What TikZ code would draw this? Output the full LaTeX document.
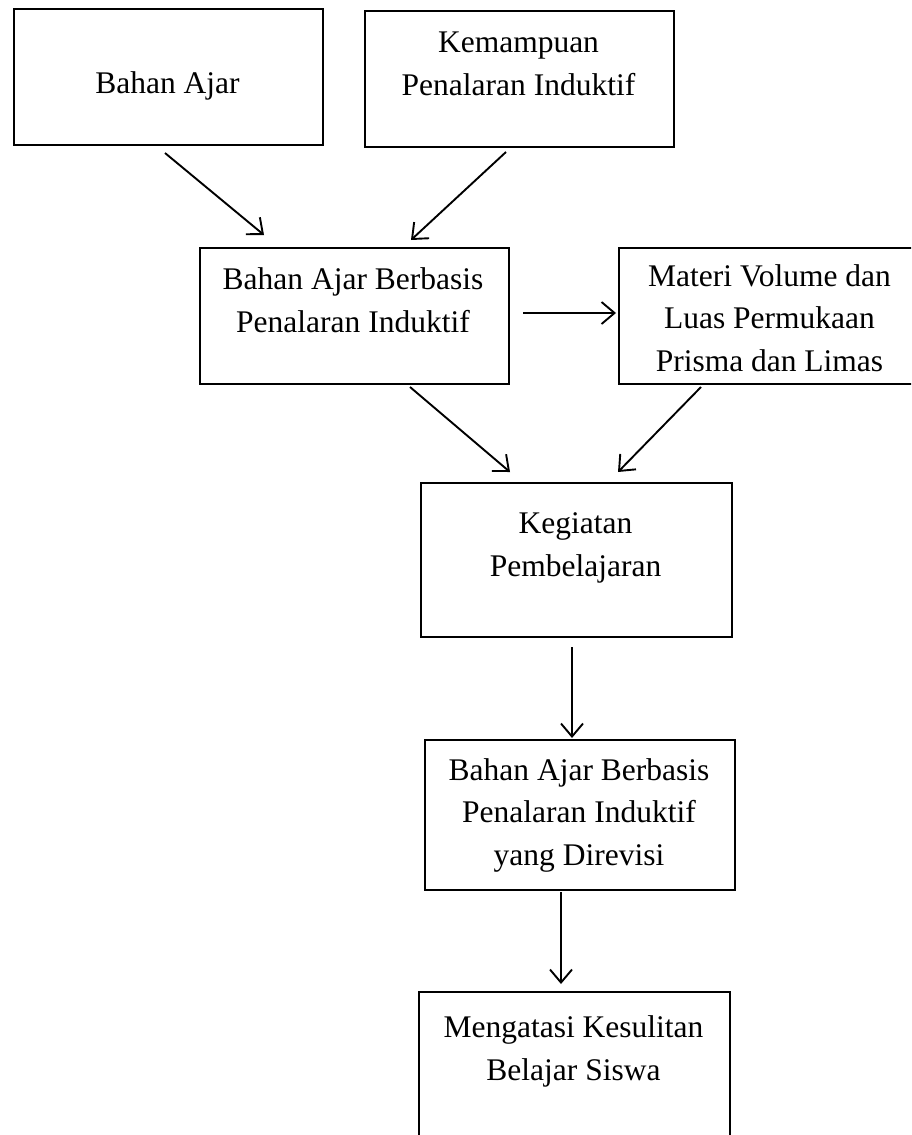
\documentclass[tikz,border=0pt]{standalone}
\usepackage{fontspec}
\setmainfont{Liberation Serif}
\usetikzlibrary{arrows.meta}
\begin{document}
\begin{tikzpicture}[x=1pt,y=-1pt,
  boxnode/.style={draw=black,line width=2pt,inner sep=0pt,anchor=north west},
  boxtext/.style={font=\fontsize{31.5}{42.5}\selectfont,align=center,anchor=base,inner sep=0pt},
  arr/.style={line width=1.9pt,-{Straight Barb[length=13pt,width=22pt,line width=1.9pt]}}]
\useasboundingbox (0,0) rectangle (911,1135);
\clip (0,0) rectangle (911,1135);
% boxes
\node[boxnode,minimum width=309pt,minimum height=136pt] (b1) at (13,8) {};
\node[boxnode,minimum width=309pt,minimum height=136pt] (b2) at (364,10) {};
\node[boxnode,minimum width=309pt,minimum height=136pt] (b3) at (199,247) {};
\node[boxnode,minimum width=303pt,minimum height=136pt] (b4) at (618,247) {};
\node[boxnode,minimum width=311pt,minimum height=154pt] (b5) at (420,482) {};
\node[boxnode,minimum width=310pt,minimum height=150pt] (b6) at (424,739) {};
\node[boxnode,minimum width=311pt,minimum height=170pt] (b7) at (418,991) {};
% texts (anchored at the baseline of the last line)
\node[boxtext] (t1) at (167.5,93) {Bahan Ajar};
\node[boxtext] (t2) at (518.5,95) {Kemampuan\\Penalaran Induktif};
\node[boxtext] (t3) at (353,332) {Bahan Ajar Berbasis\\Penalaran Induktif};
\node[boxtext] (t4) at (769.5,371) {Materi Volume dan\\Luas Permukaan\\Prisma dan Limas};
\node[boxtext] (t5) at (575.5,576) {Kegiatan\\Pembelajaran};
\node[boxtext] (t6) at (579,865) {Bahan Ajar Berbasis\\Penalaran Induktif\\yang Direvisi};
\node[boxtext] (t7) at (573.5,1080) {Mengatasi Kesulitan\\Belajar Siswa};
% arrow end points
\coordinate (a1s) at (165,153);  \coordinate (a1e) at (264,235);
\coordinate (a2s) at (506,152);  \coordinate (a2e) at (411,240);
\coordinate (a3s) at (523,313);  \coordinate (a3e) at (616,313);
\coordinate (a4s) at (410,387);  \coordinate (a4e) at (510,472);
\coordinate (a5s) at (701,387);  \coordinate (a5e) at (618,472);
\coordinate (a6s) at (572,647);  \coordinate (a6e) at (572,738);
\coordinate (a7s) at (561,892);  \coordinate (a7e) at (561,984);
\draw[arr] (a1s) -- (a1e);
\draw[arr] (a2s) -- (a2e);
\draw[arr] (a3s) -- (a3e);
\draw[arr] (a4s) -- (a4e);
\draw[arr] (a5s) -- (a5e);
\draw[arr] (a6s) -- (a6e);
\draw[arr] (a7s) -- (a7e);
\end{tikzpicture}
\end{document}
